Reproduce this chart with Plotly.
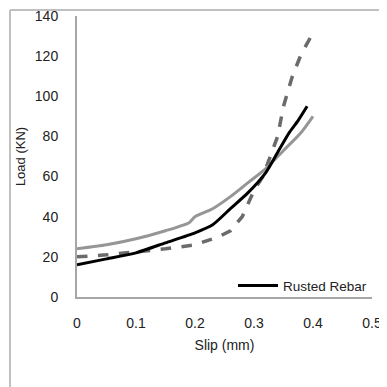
import plotly.graph_objects as go

# Rusted Rebar (black solid)
rusted_slip = [0, 0.05, 0.1, 0.15, 0.2, 0.23, 0.26, 0.29, 0.32, 0.34, 0.36, 0.375, 0.39]
rusted_load = [16, 19, 22, 27, 32, 36, 44, 52, 62, 72, 82, 88, 95]

# Gray solid series
gray_slip = [0, 0.05, 0.1, 0.15, 0.19, 0.2, 0.23, 0.26, 0.29, 0.32, 0.35, 0.38, 0.4]
gray_load = [24, 26, 29, 33, 37, 40, 44, 50, 57, 64, 73, 82, 90]

# Gray dashed series
dash_slip = [0, 0.05, 0.1, 0.15, 0.2, 0.24, 0.26, 0.28, 0.3, 0.315, 0.33, 0.34, 0.35, 0.365, 0.38, 0.397]
dash_load = [20, 21, 22.5, 24, 26, 30, 33, 40, 53, 60, 72, 80, 95, 110, 121, 130]

x_ticks = [0, 0.1, 0.2, 0.3, 0.4, 0.5]
x_tick_labels = ["0", "0.1", "0.2", "0.3", "0.4", "0.5"]
y_ticks = [0, 20, 40, 60, 80, 100, 120, 140]

fig = go.Figure()
fig.add_trace(go.Scatter(x=dash_slip, y=dash_load, mode="lines",
                         line=dict(color="#6b6b6b", width=3.5, dash="dash"),
                         showlegend=False))
fig.add_trace(go.Scatter(x=gray_slip, y=gray_load, mode="lines",
                         line=dict(color="#969696", width=3, shape="spline", smoothing=0.6),
                         showlegend=False))
fig.add_trace(go.Scatter(x=rusted_slip, y=rusted_load, mode="lines",
                         name="Rusted Rebar",
                         line=dict(color="#000000", width=3, shape="spline", smoothing=0.6)))

font_family = "Liberation Sans, Arial, sans-serif"

fig.update_layout(
    width=379, height=379,
    margin=dict(l=69, r=15, t=8, b=90, autoexpand=False),
    paper_bgcolor="white", plot_bgcolor="white",
    font=dict(family=font_family, color="#222222", size=14),
    xaxis=dict(range=[0, 0.5], tickvals=x_ticks, ticktext=x_tick_labels,
               showgrid=False, zeroline=False, showline=True, automargin=False,
               linecolor="#a6a6a6", linewidth=2, ticks="",
               ticklabelstandoff=12, ticklabeloverflow="allow",
               title=dict(text="Slip (mm)", font=dict(size=14), standoff=10)),
    yaxis=dict(range=[0, 140], tickvals=y_ticks,
               showgrid=False, zeroline=False, showline=True, automargin=False,
               linecolor="#a6a6a6", linewidth=2, ticks="",
               ticklabelstandoff=14, ticklabeloverflow="allow",
               title=dict(text="Load (KN)", font=dict(size=13), standoff=6)),
    legend=dict(x=1.0, y=0.04, xanchor="right", yanchor="middle",
                bgcolor="rgba(0,0,0,0)", font=dict(size=13.5, color="#222222"),
                itemwidth=40),
)

# frame lines along the top and left edges of the figure
fig.add_shape(type="line", xref="paper", yref="paper",
              x0=-0.2271, x1=1.06, y0=1.0214, y1=1.0214,
              line=dict(color="#c0c0c0", width=2), layer="above")
fig.add_shape(type="line", xref="paper", yref="paper",
              x0=-0.2271, x1=-0.2271, y0=1.0214, y1=-0.33,
              line=dict(color="#c0c0c0", width=2), layer="above")

fig.write_html("out.html")
